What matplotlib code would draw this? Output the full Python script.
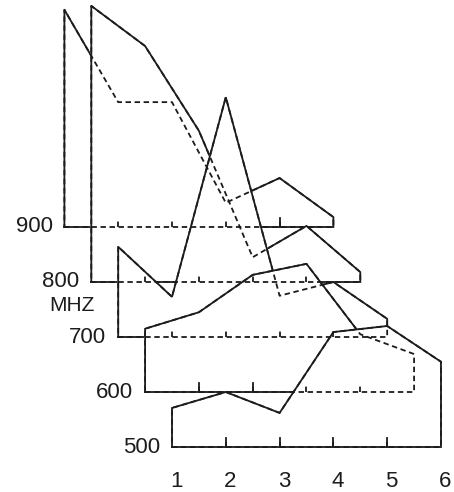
import numpy as np
import matplotlib
matplotlib.use('Agg')
import matplotlib.pyplot as plt

plt.rcParams['font.family'] = ['Liberation Sans', 'DejaVu Sans']

# traces, back to front
freqs = [900, 800, 700, 600, 500]
positions = [1, 2, 3, 4, 5, 6]
x_labels = ['1', '2', '3', '4', '5', '6']

level_900 = [395, 227, 227, 44, 89, 18]
level_800 = [502, 429, 275, 45, 102, 18]
level_700 = [164, 73, 436, 75, 100, 33]
level_600 = [115, 145, 213, 233, 105, 69]
level_500 = [71, 100, 62, 209, 220, 155]
levels = [level_900, level_800, level_700, level_600, level_500]

shift = 0.5      # sideways step per 100 MHz
tick_len = 16
ink = '#1c1c1c'
lw = 1.3
hidden = (0, (3, 2))

fig = plt.figure(figsize=(4.54, 4.92), dpi=100)
ax = fig.add_axes([0, 0, 1, 1])
ax.set_xlim(-2.197, 6.242)
ax.set_ylim(418.2, 1312.7)
ax.axis('off')

for k, (f, lv) in enumerate(zip(freqs, levels)):
    dx = -shift * (f - freqs[-1]) / 100
    x = np.array(positions, dtype=float) + dx
    y = f + np.array(lv, dtype=float)

    # baseline, right edge, trace back to the left, left edge
    ox = np.concatenate([[x[0], x[-1]], x[::-1], [x[0]]])
    oy = np.concatenate([[f, f], y[::-1], [f]])

    z = 2 + k
    ax.fill(ox, oy, color='white', zorder=z)
    ax.plot(ox, oy, color=ink, lw=lw, zorder=z + 0.5, solid_joinstyle='miter')
    # hidden edges show through as dashes
    ax.plot(ox, oy, color=ink, lw=lw, ls=hidden, zorder=20)

    for t in x[1:-1]:
        ax.plot([t, t], [f, f + tick_len], color=ink, lw=lw, zorder=z + 0.5)
        ax.plot([t, t], [f, f + tick_len], color=ink, lw=lw, ls=hidden, zorder=20)

    ax.text(x[0] - 0.22, f, str(f), ha='right', va='center', fontsize=16, color=ink)
    if f == 800:
        ax.text(x[0] + 0.07, f - 42, 'MHZ', ha='right', va='center', fontsize=15, color=ink)

for p, lab in zip(positions, x_labels):
    ax.text(p + 0.08, 438, lab, ha='center', va='center', fontsize=16, color=ink)

fig.savefig('out.png', dpi=100)
